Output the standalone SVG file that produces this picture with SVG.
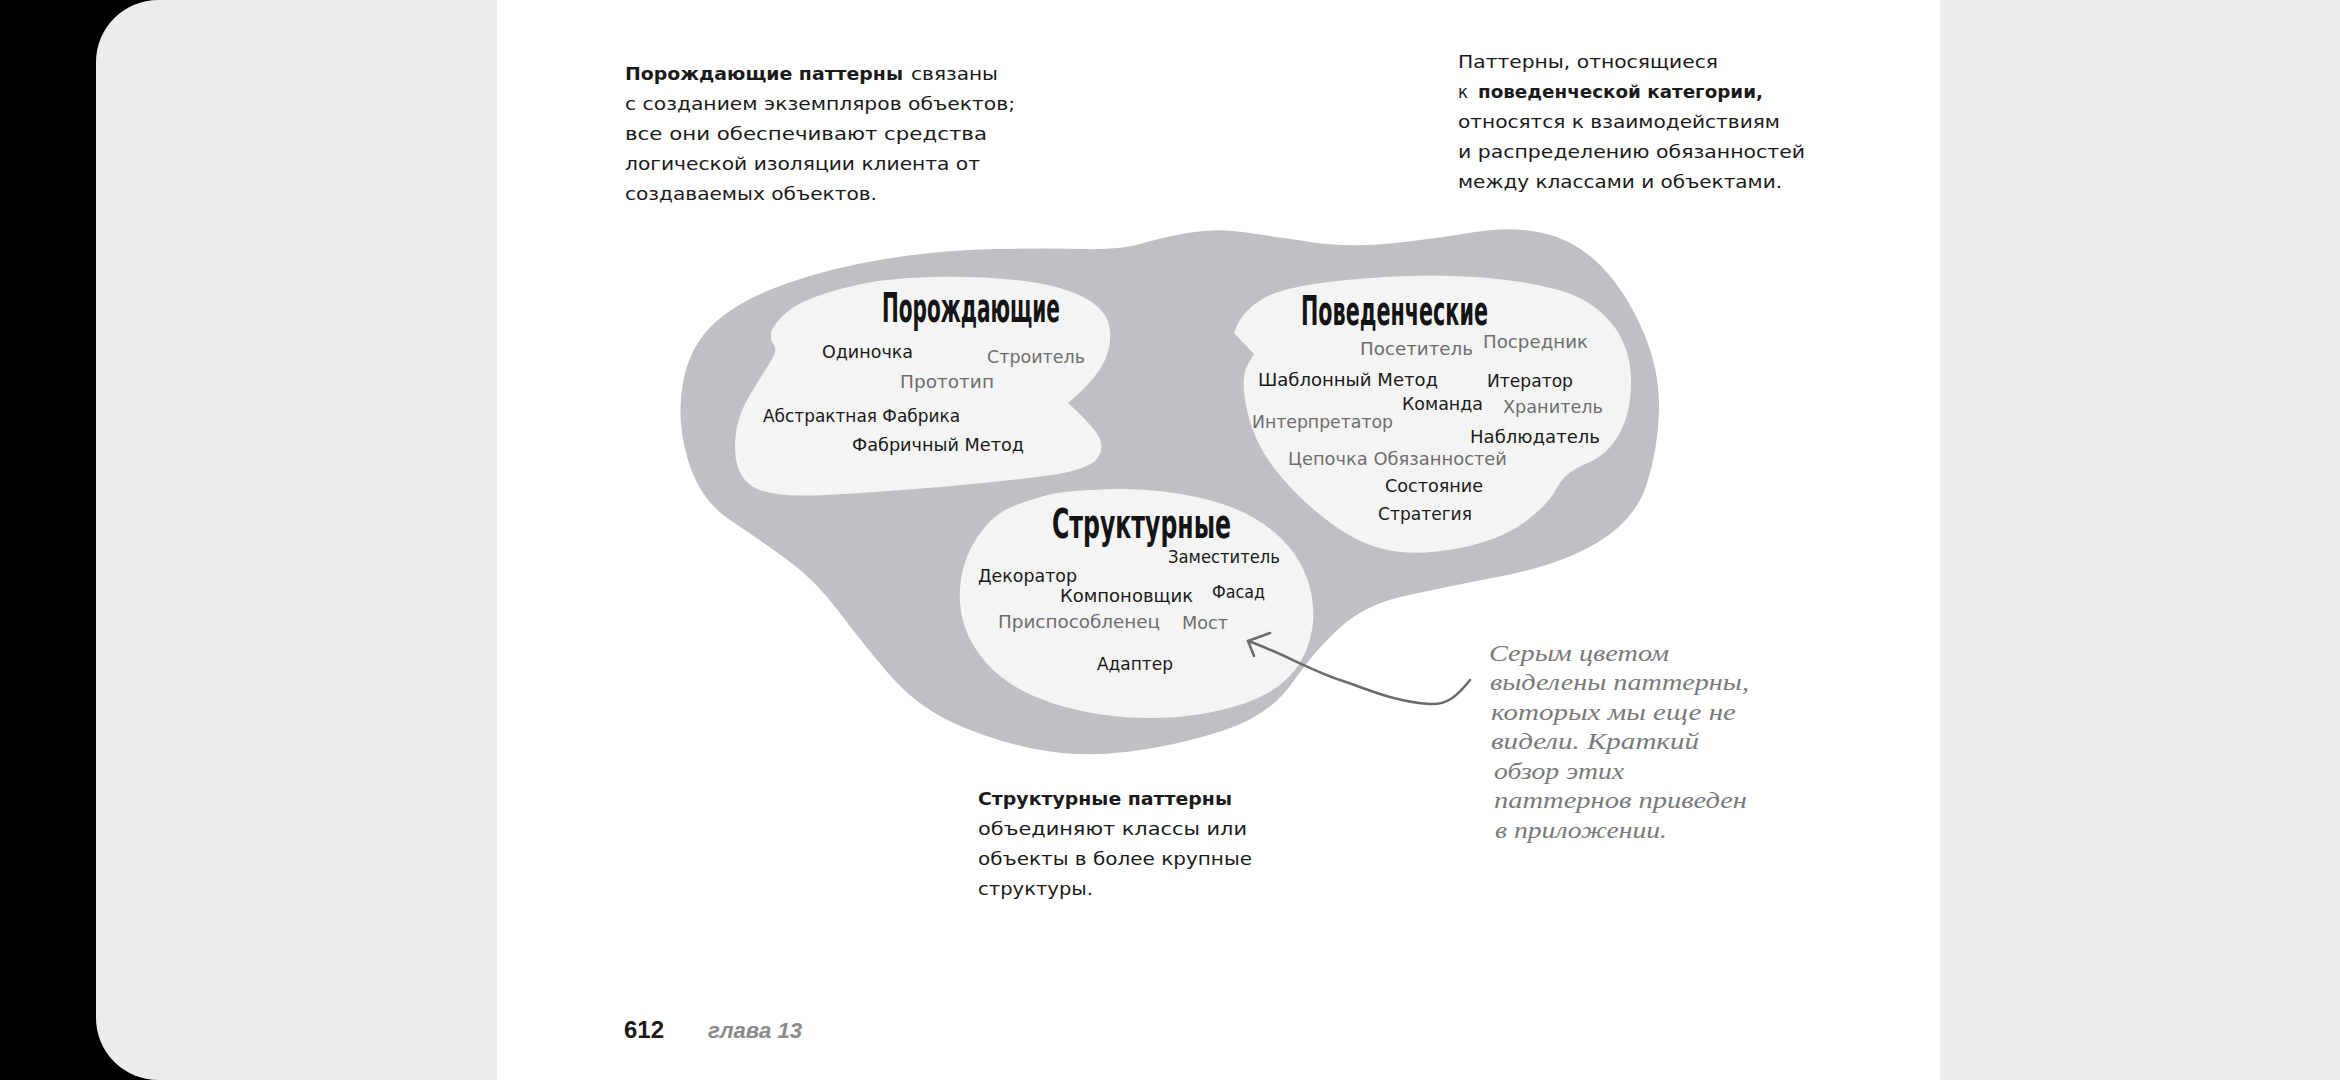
<svg xmlns="http://www.w3.org/2000/svg" width="2340" height="1080" viewBox="0 0 2340 1080">
  <style>
    .body { font-family: "DejaVu Sans", "Noto Sans", sans-serif; font-size: 18px; fill: #1a1a1a; }
    .b { font-weight: bold; }
    .pat { font-family: "DejaVu Sans", "Noto Sans", sans-serif; font-size: 17.5px; fill: #1a1a1a; }
    .new { fill: #6e6e6e; }
    .title { font-family: "DejaVu Sans Condensed", "Liberation Sans Narrow", "DejaVu Sans", sans-serif; font-weight: bold; font-size: 40px; fill: #141414; }
    .note { font-family: "Liberation Serif", "DejaVu Serif", serif; font-style: italic; font-size: 24px; fill: #7a7a7a; }
    .outer { fill: #bfc0c3; }
    .cloud { fill: #f4f4f4; }
    .conn { fill: none; stroke: #6b6b6b; stroke-width: 2.5; stroke-linecap: round; stroke-linejoin: round; }
  </style>

  <!-- backdrop: dark edge, rounded grey panel, white page -->
  <rect x="0" y="0" width="2340" height="1080" fill="#000000"/>
  <rect x="96" y="0" width="2400" height="1080" rx="62" fill="#ececec"/>
  <rect x="497" y="0" width="1443" height="1080" fill="#ffffff"/>

  <!-- explanatory paragraphs -->
  <g id="creational-note">
    <text class="body b" x="625" y="80" textLength="278" lengthAdjust="spacingAndGlyphs">Порождающие паттерны</text>
    <text class="body" x="911" y="80" textLength="87" lengthAdjust="spacingAndGlyphs">связаны</text>
    <text class="body" x="625" y="110" textLength="390" lengthAdjust="spacingAndGlyphs">с созданием экземпляров объектов;</text>
    <text class="body" x="625" y="140" textLength="362" lengthAdjust="spacingAndGlyphs">все они обеспечивают средства</text>
    <text class="body" x="625" y="170" textLength="355" lengthAdjust="spacingAndGlyphs">логической изоляции клиента от</text>
    <text class="body" x="625" y="200" textLength="252" lengthAdjust="spacingAndGlyphs">создаваемых объектов.</text>
  </g>

  <g id="behavioral-note">
    <text class="body" x="1458" y="68" textLength="260" lengthAdjust="spacingAndGlyphs">Паттерны, относящиеся</text>
    <text class="body" x="1458" y="98" textLength="10" lengthAdjust="spacingAndGlyphs">к</text>
    <text class="body b" x="1478" y="98" textLength="285" lengthAdjust="spacingAndGlyphs">поведенческой категории,</text>
    <text class="body" x="1458" y="128" textLength="322" lengthAdjust="spacingAndGlyphs">относятся к взаимодействиям</text>
    <text class="body" x="1458" y="158" textLength="347" lengthAdjust="spacingAndGlyphs">и распределению обязанностей</text>
    <text class="body" x="1458" y="188" textLength="324" lengthAdjust="spacingAndGlyphs">между классами и объектами.</text>
  </g>

  <g id="structural-note">
    <text class="body b" x="978" y="805" textLength="254" lengthAdjust="spacingAndGlyphs">Структурные паттерны</text>
    <text class="body" x="978" y="835" textLength="269" lengthAdjust="spacingAndGlyphs">объединяют классы или</text>
    <text class="body" x="978" y="865" textLength="274" lengthAdjust="spacingAndGlyphs">объекты в более крупные</text>
    <text class="body" x="978" y="895" textLength="115" lengthAdjust="spacingAndGlyphs">структуры.</text>
  </g>

  <!-- the whole pattern catalogue -->
  <g id="catalogue">
    <path class="outer" d="M688,460 Q676,420 683,382.5 Q690,345 715,322.5 Q740,300 785,284 Q830,268 885,259 Q940,250 995,249 Q1050,248 1085,249 Q1120,250 1140,244 Q1160,238 1187.5,233 Q1215,228 1242.5,232 Q1270,236 1310,242 Q1350,248 1395,243 Q1440,238 1475,232 Q1510,226 1542.5,233 Q1575,240 1600,265 Q1625,290 1642.5,330 Q1660,370 1659,410 Q1658,450 1646.5,485 Q1635,520 1597.5,542.5 Q1560,565 1500,576.5 Q1440,588 1402.5,596.5 Q1365,605 1340,627.5 Q1315,650 1292.5,682.5 Q1270,715 1225,730 Q1180,745 1130,751.5 Q1080,758 1035,749 Q990,740 952.5,722.5 Q915,705 887.5,672.5 Q860,640 837.5,610 Q815,580 787.5,560 Q760,540 730,520 Q700,500 688,460 Z"/>
  </g>

  <g id="creational">
    <path class="cloud" d="M771,333 Q772,326 786,313 Q800,300 840,289 Q880,278 930,277 Q980,276 1020,280.5 Q1060,285 1084,297.5 Q1108,310 1110,330 Q1112,350 1101,367.5 Q1090,385 1068,403 Q1085,418 1095.5,431.5 Q1106,445 1098,457.5 Q1090,470 1045,476 Q1000,482 940,487 Q880,492 825,495 Q770,498 752.5,486.5 Q735,475 735,447.5 Q735,420 748.5,397.5 Q762,375 770,362.5 Q778,350 774,345 Q770,340 771,333 Z"/>
    <text class="title" x="882" y="322" textLength="178" lengthAdjust="spacingAndGlyphs">Порождающие</text>
    <text class="pat" x="822" y="358" textLength="91" lengthAdjust="spacingAndGlyphs">Одиночка</text>
    <text class="pat new" x="987" y="363" textLength="98" lengthAdjust="spacingAndGlyphs">Строитель</text>
    <text class="pat new" x="900" y="388" textLength="94" lengthAdjust="spacingAndGlyphs">Прототип</text>
    <text class="pat" x="763" y="422" textLength="197" lengthAdjust="spacingAndGlyphs">Абстрактная Фабрика</text>
    <text class="pat" x="852" y="451" textLength="172" lengthAdjust="spacingAndGlyphs">Фабричный Метод</text>
  </g>

  <g id="behavioral">
    <path class="cloud" d="M1234,333 Q1242,308 1270,295 Q1300,282 1385,277 Q1430,274 1475,277 Q1520,280 1555,289 Q1590,298 1610,321.5 Q1630,345 1631,377.5 Q1632,410 1620,432.5 Q1608,455 1586.5,463.5 Q1565,472 1556.5,488.5 Q1548,505 1524,522.5 Q1500,540 1460,548 Q1420,556 1390,550.5 Q1360,545 1330,522.5 Q1300,500 1277.5,472.5 Q1255,445 1247.5,412.5 Q1240,380 1247,366 L1254,354 Z"/>
    <text class="title" x="1301" y="325" textLength="187" lengthAdjust="spacingAndGlyphs">Поведенческие</text>
    <text class="pat new" x="1360" y="355" textLength="113" lengthAdjust="spacingAndGlyphs">Посетитель</text>
    <text class="pat new" x="1483" y="348" textLength="105" lengthAdjust="spacingAndGlyphs">Посредник</text>
    <text class="pat" x="1258" y="386" textLength="180" lengthAdjust="spacingAndGlyphs">Шаблонный Метод</text>
    <text class="pat" x="1487" y="387" textLength="86" lengthAdjust="spacingAndGlyphs">Итератор</text>
    <text class="pat" x="1402" y="410" textLength="81" lengthAdjust="spacingAndGlyphs">Команда</text>
    <text class="pat new" x="1503" y="413" textLength="100" lengthAdjust="spacingAndGlyphs">Хранитель</text>
    <text class="pat new" x="1252" y="428" textLength="141" lengthAdjust="spacingAndGlyphs">Интерпретатор</text>
    <text class="pat" x="1470" y="443" textLength="130" lengthAdjust="spacingAndGlyphs">Наблюдатель</text>
    <text class="pat new" x="1288" y="465" textLength="219" lengthAdjust="spacingAndGlyphs">Цепочка Обязанностей</text>
    <text class="pat" x="1385" y="492" textLength="98" lengthAdjust="spacingAndGlyphs">Состояние</text>
    <text class="pat" x="1378" y="520" textLength="94" lengthAdjust="spacingAndGlyphs">Стратегия</text>
  </g>

  <g id="structural">
    <path class="cloud" d="M1057.5,493 Q1075,490 1117.5,489 Q1160,488 1205,499 Q1250,510 1277.5,535 Q1305,560 1311.5,595 Q1318,630 1301.5,660 Q1285,690 1242.5,704 Q1200,718 1150,718 Q1100,718 1055,704 Q1010,690 986,662.5 Q962,635 960,602.5 Q958,570 974,542.5 Q990,515 1015,505.5 Q1040,496 1057.5,493 Z"/>
    <text class="title" x="1052" y="538" textLength="179" lengthAdjust="spacingAndGlyphs">Структурные</text>
    <text class="pat" x="1168" y="563" textLength="112" lengthAdjust="spacingAndGlyphs">Заместитель</text>
    <text class="pat" x="978" y="582" textLength="99" lengthAdjust="spacingAndGlyphs">Декоратор</text>
    <text class="pat" x="1060" y="602" textLength="133" lengthAdjust="spacingAndGlyphs">Компоновщик</text>
    <text class="pat" x="1212" y="598" textLength="53" lengthAdjust="spacingAndGlyphs">Фасад</text>
    <text class="pat new" x="998" y="628" textLength="162" lengthAdjust="spacingAndGlyphs">Приспособленец</text>
    <text class="pat new" x="1182" y="629" textLength="46" lengthAdjust="spacingAndGlyphs">Мост</text>
    <text class="pat" x="1097" y="670" textLength="76" lengthAdjust="spacingAndGlyphs">Адаптер</text>
  </g>

  <!-- handwritten remark -->
  <g id="grey-remark">
    <text class="note" x="1489" y="661" textLength="180" lengthAdjust="spacingAndGlyphs">Серым цветом</text>
    <text class="note" x="1490" y="690" textLength="259" lengthAdjust="spacingAndGlyphs">выделены паттерны,</text>
    <text class="note" x="1491" y="720" textLength="245" lengthAdjust="spacingAndGlyphs">которых мы еще не</text>
    <text class="note" x="1491" y="749" textLength="208" lengthAdjust="spacingAndGlyphs">видели. Краткий</text>
    <text class="note" x="1494" y="779" textLength="130" lengthAdjust="spacingAndGlyphs">обзор этих</text>
    <text class="note" x="1494" y="808" textLength="253" lengthAdjust="spacingAndGlyphs">паттернов приведен</text>
    <text class="note" x="1495" y="838" textLength="172" lengthAdjust="spacingAndGlyphs">в приложении.</text>
  </g>

  <g id="connectors">
    <path class="conn" d="M1470,680 C1458,695 1448,705 1430,704 C1395,702 1370,690 1340,680 C1310,670 1280,652 1248,641"/>
    <path class="conn" d="M1270,633 L1248,641 L1254,656"/>
  </g>

  <!-- running footer -->
  <g id="footer">
    <text x="624" y="1038" font-family="Liberation Sans, Arial, sans-serif" font-weight="bold" font-size="24" fill="#1a1a1a" textLength="40" lengthAdjust="spacingAndGlyphs">612</text>
    <text x="708" y="1038" font-family="Liberation Sans, Arial, sans-serif" font-weight="bold" font-style="italic" font-size="22" fill="#8a8a8a" textLength="94" lengthAdjust="spacingAndGlyphs">глава 13</text>
  </g>
</svg>
